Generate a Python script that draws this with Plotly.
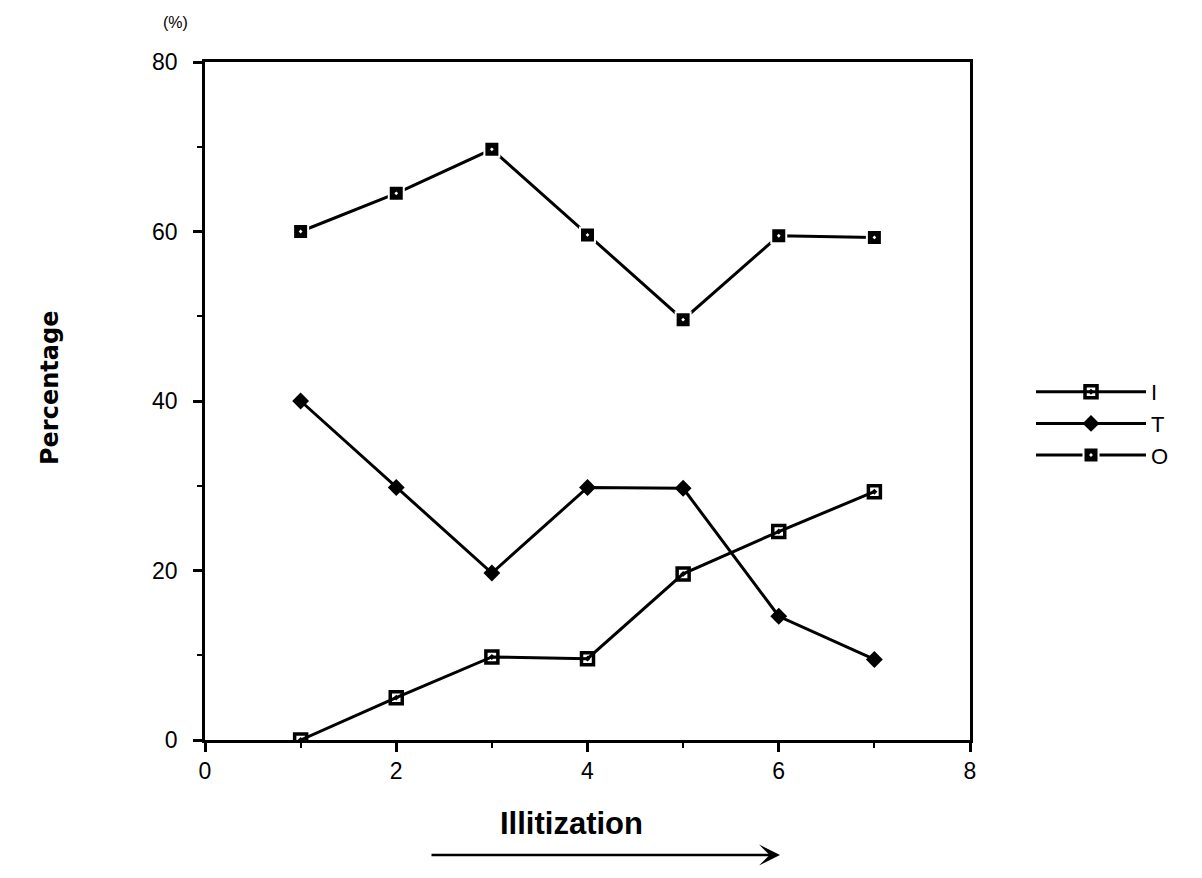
import plotly.graph_objects as go

# Stage of illitization (x) and share of each component (%)
stage = [1, 2, 3, 4, 5, 6, 7]
pct_I = [0, 5, 9.8, 9.6, 19.6, 24.6, 29.3]
pct_T = [40, 29.8, 19.7, 29.8, 29.7, 14.6, 9.5]
pct_O = [60, 64.5, 69.7, 59.6, 49.6, 59.5, 59.3]

x_ticks = [0, 2, 4, 6, 8]
y_ticks = [0, 20, 40, 60, 80]

FONT = "Liberation Sans, Arial, sans-serif"
INK = "black"

# plot area in pixels (used to place the decorations around it)
L, R, T, B = 205, 232, 62, 138
W, H = 1202, 878
PW, PH = W - L - R, H - T - B


def px_x(px):
    return (px - L) / PW


def px_y(py):
    return (H - B - py) / PH


fig = go.Figure()

fig.add_trace(go.Scatter(
    x=stage, y=pct_I, name="I", mode="lines+markers",
    line=dict(color=INK, width=3),
    marker=dict(symbol="square-open-dot", size=12, color=INK,
                line=dict(width=3.5, color=INK)),
))
fig.add_trace(go.Scatter(
    x=stage, y=pct_T, name="T", mode="lines+markers",
    line=dict(color=INK, width=3),
    marker=dict(symbol="diamond", size=13, color=INK,
                line=dict(width=0)),
))
fig.add_trace(go.Scatter(
    x=stage, y=pct_O, name="O", mode="lines+markers",
    line=dict(color=INK, width=3),
    marker=dict(symbol="square-dot", size=15, color=INK,
                line=dict(width=2, color="white")),
))

axis_common = dict(
    showline=True, linecolor=INK, linewidth=2.5, mirror=True,
    showgrid=False, zeroline=False,
    ticks="outside", tickcolor=INK, tickwidth=2.5, ticklen=9,
    tickfont=dict(family=FONT, size=23, color=INK),
    minor=dict(ticks="outside", ticklen=5, tickwidth=2, tickcolor=INK),
)

fig.update_xaxes(range=[0, 8], tickvals=x_ticks, ticktext=[str(v) for v in x_ticks],
                 minor_dtick=1, **axis_common)
fig.update_yaxes(range=[0, 80], tickvals=y_ticks, ticktext=[str(v) for v in y_ticks],
                 minor_dtick=10, ticklabelstandoff=11, **axis_common)

fig.update_layout(
    width=W, height=H,
    margin=dict(l=L, r=R, t=T, b=B),
    paper_bgcolor="white", plot_bgcolor="white",
    font=dict(family=FONT, color=INK),
    showlegend=True,
    legend=dict(
        x=px_x(1031), y=px_y(371), xanchor="left", yanchor="top",
        font=dict(family=FONT, size=22, color=INK),
        tracegroupgap=0, itemwidth=110, bgcolor="rgba(0,0,0,0)",
    ),
    annotations=[
        dict(text="(%)", xref="paper", yref="paper", x=px_x(175), y=px_y(22),
             xanchor="center", yanchor="middle", showarrow=False,
             font=dict(family=FONT, size=16, color=INK)),
        dict(text="<b>Percentage</b>", xref="paper", yref="paper",
             x=px_x(50), y=px_y(388), textangle=-90, showarrow=False,
             xanchor="center", yanchor="middle",
             font=dict(family="DejaVu Sans, sans-serif", size=24, color=INK)),
        dict(text="<b>Illitization</b>", xref="paper", yref="paper",
             x=px_x(571), y=px_y(823), showarrow=False,
             xanchor="center", yanchor="middle",
             font=dict(family=FONT, size=31, color=INK)),
        # direction arrow under the axis title
        dict(text="", xref="paper", yref="paper",
             x=px_x(780), y=px_y(855), ax=-350, ay=0, axref="pixel", ayref="pixel",
             showarrow=True, arrowhead=3, arrowsize=1.4, arrowwidth=2.5,
             arrowcolor=INK),
    ],
)

fig.write_html("out.html")
